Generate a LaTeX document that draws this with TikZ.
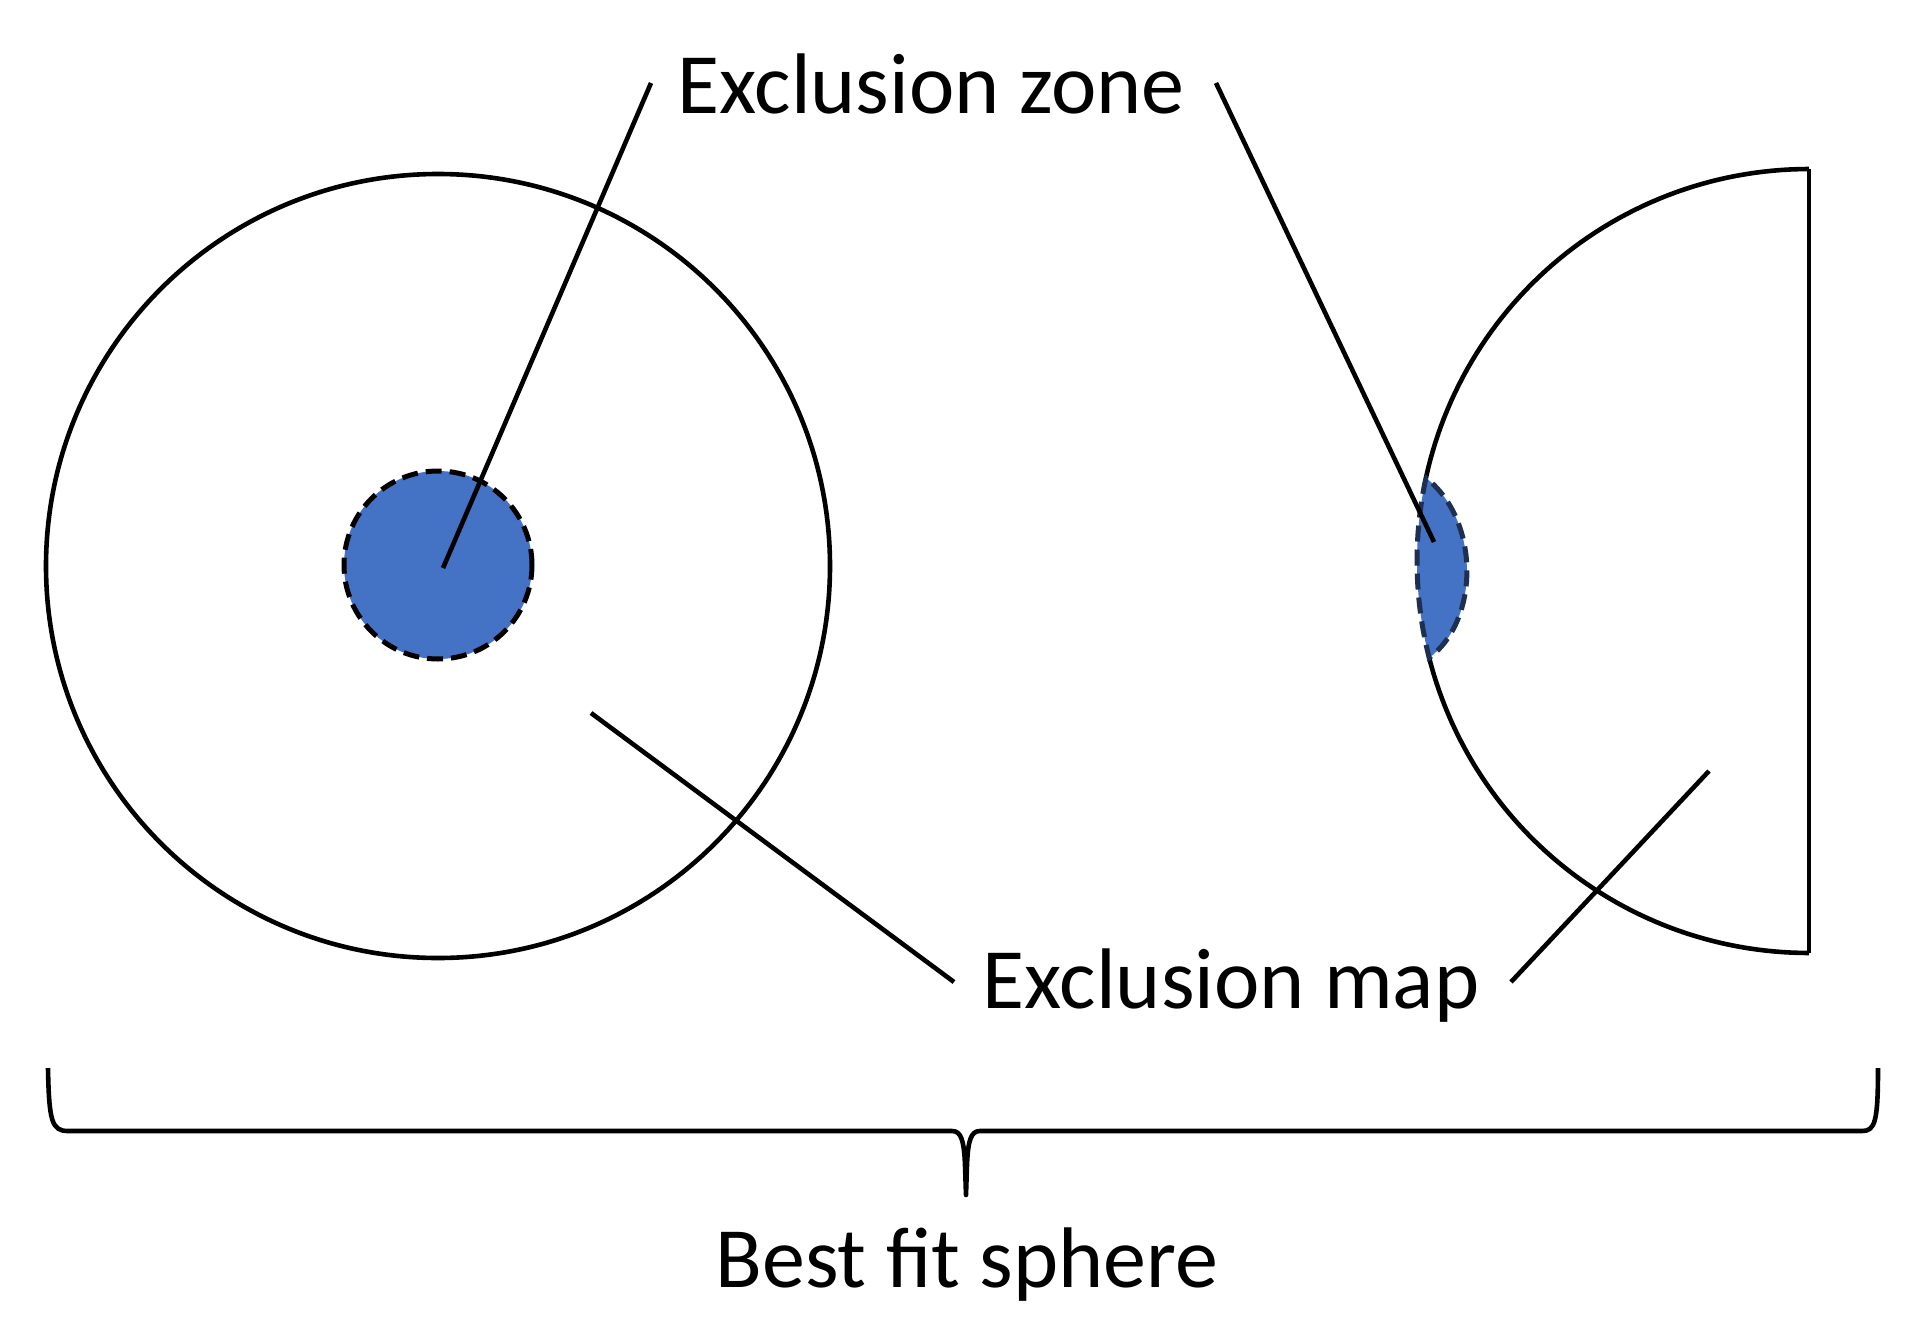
\documentclass[tikz,border=0pt]{standalone}
\usepackage{fontspec}
\setmainfont{Carlito}
\definecolor{zoneblue}{HTML}{4472C4}
\definecolor{dashnavy}{HTML}{1F2F4F}
\begin{document}
\begin{tikzpicture}[x=0.5pt,y=-0.5pt,
  outline/.style={line width=2.3pt, draw=black},
  leader/.style={line width=2.3pt, draw=black},
  lbl/.style={font=\fontsize{43}{51}\selectfont, inner sep=0pt, anchor=base},
  zonedash/.style={line width=2.5pt, dash pattern=on 8pt off 4pt}
]
\useasboundingbox (0,0) rectangle (1918,1333);

% labels
\node[lbl] (zonelbl) at (931,113) {Exclusion zone};
\node[lbl] (maplbl) at (1231,1008) {Exclusion map};
\node[lbl] (bfslbl) at (967,1287) {Best fit sphere};

% left: full sphere map
\node[circle, outline, minimum size=392pt, inner sep=0pt] (bigc) at (438,566) {};
\node[circle, fill=zoneblue, draw=black, zonedash, minimum size=94pt, inner sep=0pt] (zone1) at (438,565) {};

% right: half sphere map
\coordinate (rtop) at (1809,169);
\coordinate (rbot) at (1809,953);
\draw[outline] plot[domain=270:192.2, samples=60, variable=\t] ({1809+392*cos(\t)},{561+392*sin(\t)});
\draw[outline] plot[domain=165.7:90, samples=60, variable=\t] ({1809+392*cos(\t)},{561+392*sin(\t)});
\draw[outline] (rtop) -- (rbot);

% lens-shaped exclusion zone
\path[fill=zoneblue] plot[domain=192.2:165.7, samples=20, variable=\t] ({1809+392*cos(\t)},{561+392*sin(\t)})
  .. controls (1480,620) and (1480,520) .. (1426,478) -- cycle;
\draw[draw=dashnavy, zonedash] plot[domain=192.2:165.7, samples=20, variable=\t] ({1809+392*cos(\t)},{561+392*sin(\t)})
  .. controls (1480,620) and (1480,520) .. (1426,478) -- cycle;

% leader lines
\coordinate (z1a) at (651,83);
\coordinate (z1b) at (443,568);
\coordinate (z2a) at (1216,83);
\coordinate (z2b) at (1434,542);
\coordinate (m1a) at (591,713);
\coordinate (m1b) at (954,982);
\coordinate (m2a) at (1511,982);
\coordinate (m2b) at (1709,771);
\draw[leader] (z1a) -- (z1b);
\draw[leader] (z2a) -- (z2b);
\draw[leader] (m1a) -- (m1b);
\draw[leader] (m2a) -- (m2b);

% brace
\coordinate (bl) at (48,1068);
\coordinate (br) at (1878,1068);
\coordinate (btip) at (966,1195);
\draw[outline, line join=round] (bl) .. controls (49,1122) and (52,1131) .. (68,1131)
  -- (952,1131) .. controls (961,1131) and (964,1140) .. (965,1165) -- (btip)
  -- (967,1165) .. controls (968,1140) and (971,1131) .. (980,1131)
  -- (1862,1131) .. controls (1875,1131) and (1878,1122) .. (br);
\end{tikzpicture}
\end{document}
